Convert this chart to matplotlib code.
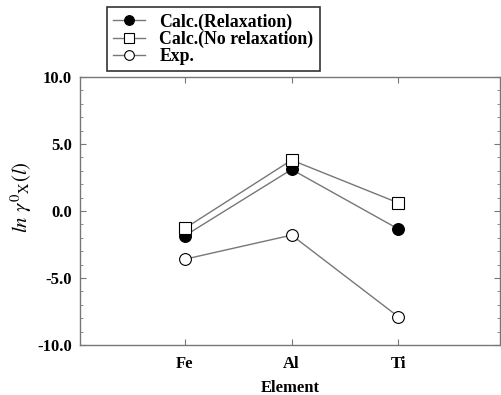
import numpy as np
import matplotlib.pyplot as plt

plt.rcParams['font.family'] = ['Liberation Serif', 'DejaVu Serif']
plt.rcParams['mathtext.fontset'] = 'stix'

elements = ['Fe', 'Al', 'Ti']
calc_relax = [-1.85, 3.1, -1.35]
calc_norelax = [-1.3, 3.8, 0.6]
exp_vals = [-3.6, -1.8, -7.9]
y_ticks = [-10.0, -5.0, 0.0, 5.0, 10.0]

x = np.arange(1, len(elements) + 1)

fig = plt.figure(figsize=(5.01, 3.95), dpi=100)
ax = fig.add_axes([80/501, 50/395, 420/501, 268/395])

line_kw = dict(color='#777777', lw=1.0, markersize=8.5, markeredgecolor='black',
               markeredgewidth=0.8, zorder=3)
ax.plot(x, calc_relax, marker='o', markerfacecolor='black',
        label='Calc.(Relaxation)', **line_kw)
ax.plot(x, calc_norelax, marker='s', markerfacecolor='white',
        label='Calc.(No relaxation)', **line_kw)
ax.plot(x, exp_vals, marker='o', markerfacecolor='white',
        label='Exp.', **line_kw)

ax.set_xlim(0.02, 3.95)
ax.set_ylim(-10, 10)
ax.set_xticks(x)
ax.set_xticklabels(elements, fontweight='bold', fontsize=12)
ax.set_yticks(y_ticks)
ax.set_yticks(np.arange(-10, 11, 1), minor=True)
ax.set_yticklabels([f'{v:.1f}' for v in y_ticks], fontweight='bold', fontsize=12)
ax.tick_params(which='both', direction='in', top=True, right=True, color='#777777')
ax.tick_params(which='major', length=4)
ax.tick_params(which='minor', length=2.5)
ax.tick_params(axis='x', pad=8)
ax.tick_params(axis='y', pad=6)
for s in ax.spines.values():
    s.set_color('#777777')
    s.set_linewidth(1.0)

ax.set_xlabel('Element', fontweight='bold', fontsize=12, labelpad=6)
ax.set_ylabel(r'$ln\ \gamma^{0}{}_{\mathrm{X}}(l)$', fontsize=15)
ax.yaxis.set_label_coords(-0.11, 0.55)

leg = fig.legend(loc='upper left', bbox_to_anchor=(107/501, 1 - 7/395),
                 frameon=True, fancybox=False, edgecolor='black',
                 prop={'weight': 'bold', 'size': 12.8}, handlelength=1.8,
                 borderpad=0.35, labelspacing=0.0, handletextpad=0.8,
                 borderaxespad=0)
leg.get_frame().set_linewidth(1.2)
for h in leg.legend_handles:
    h.set_markersize(7)

fig.savefig('out.png', dpi=100)
